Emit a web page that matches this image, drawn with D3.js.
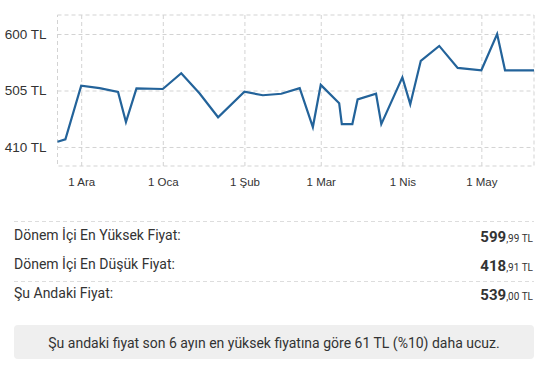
<!DOCTYPE html>
<html>
<head>
<meta charset="utf-8">
<script src="https://cdn.jsdelivr.net/npm/d3@7"></script>
<style>
  body { margin: 0; background: #fff; }
  svg { display: block; }
</style>
</head>
<body>
<script>
// price history (date, TL)
var dates = ["2023-11-22","2023-11-25","2023-12-01","2023-12-08","2023-12-15","2023-12-18",
  "2023-12-22","2024-01-01","2024-01-08","2024-01-15","2024-01-22","2024-02-01",
  "2024-02-08","2024-02-15","2024-02-22","2024-02-27","2024-03-01","2024-03-08",
  "2024-03-09","2024-03-13","2024-03-15","2024-03-22","2024-03-24","2024-04-01",
  "2024-04-04","2024-04-08","2024-04-15","2024-04-22","2024-05-01","2024-05-07",
  "2024-05-10","2024-05-21"];
var prices = [418.91, 423, 513, 509, 502.5, 452,
  508.5, 507.5, 534, 500, 460, 503,
  497, 499.5, 509, 443.5, 514.5, 483.5,
  448.5, 448.5, 490, 499.5, 448.5, 527,
  482, 555, 580, 543, 539, 599.99,
  539, 539];
var yTicks = [410, 505, 600];
var monthNames = ["Oca","Şub","Mar","Nis","May","Haz","Tem","Ağu","Eyl","Eki","Kas","Ara"];

var statLabels = ["Dönem İçi En Yüksek Fiyat:", "Dönem İçi En Düşük Fiyat:", "Şu Andaki Fiyat:"];
var statValues = [599.99, 418.91, 539.00];
var note = "Şu andaki fiyat son 6 ayın en yüksek fiyatına göre 61 TL (%10) daha ucuz.";

var W = 542, H = 377;
var svg = d3.select("body").append("svg")
    .attr("width", W)
    .attr("height", H);

var pLeft = 57.5, pRight = 534, pTop = 15, pBottom = 166;

var parse = d3.utcParse("%Y-%m-%d");
var data = dates.map(function(d, i) { return {date: parse(d), price: prices[i]}; });

var x = d3.scaleUtc()
    .domain([parse("2023-11-22"), parse("2024-05-21")])
    .range([pLeft, pRight]);
var y = d3.scaleLinear()
    .domain([378, 632])
    .range([pBottom, pTop]);

var gridColor = "#d3d3d3";

// dashed frame
svg.append("rect")
    .attr("x", pLeft).attr("y", pTop)
    .attr("width", pRight - pLeft).attr("height", pBottom - pTop)
    .attr("fill", "none")
    .attr("stroke", gridColor)
    .attr("stroke-dasharray", "4,3");

var monthTicks = x.ticks(d3.utcMonth.every(1));

// x grid + labels
var xAxis = d3.axisBottom(x)
    .tickValues(monthTicks)
    .tickSize(-(pBottom - pTop))
    .tickPadding(12)
    .tickFormat(function(d) { return "1 " + monthNames[d.getUTCMonth()]; });
var gx = svg.append("g")
    .attr("transform", "translate(0," + pBottom + ")")
    .call(xAxis);
gx.select(".domain").remove();
gx.selectAll("line").attr("stroke", gridColor).attr("stroke-dasharray", "4,3");
gx.selectAll("text")
    .attr("fill", "#333")
    .style("font-family", "Arial, 'Liberation Sans', sans-serif")
    .style("font-size", "11.5px");

// y grid + labels
var yAxis = d3.axisLeft(y)
    .tickValues(yTicks)
    .tickSize(-(pRight - pLeft))
    .tickPadding(11)
    .tickFormat(function(d) { return d + " TL"; });
var gy = svg.append("g")
    .attr("transform", "translate(" + pLeft + ",0)")
    .call(yAxis);
gy.select(".domain").remove();
gy.selectAll("line").attr("stroke", gridColor).attr("stroke-dasharray", "4,3");
gy.selectAll("text")
    .attr("fill", "#333")
    .style("font-family", "Arial, 'Liberation Sans', sans-serif")
    .style("font-size", "13.5px");

// price line
var line = d3.line()
    .x(function(d) { return x(d.date); })
    .y(function(d) { return y(d.price); });
svg.append("path")
    .datum(data)
    .attr("d", line)
    .attr("fill", "none")
    .attr("stroke", "#23639a")
    .attr("stroke-width", 2.2)
    .attr("stroke-linejoin", "miter");

// stats table
var font = "Roboto, 'Noto Sans', sans-serif";
var rowBase = [240, 269, 298];
var sepY = [221.5, 281.5];
sepY.forEach(function(sy) {
    svg.append("line")
        .attr("x1", 14).attr("x2", 534)
        .attr("y1", sy).attr("y2", sy)
        .attr("stroke", "#ddd")
        .attr("stroke-dasharray", "4,3");
});

statLabels.forEach(function(lbl, i) {
    svg.append("text")
        .attr("x", 14).attr("y", rowBase[i])
        .attr("fill", "#333")
        .style("font-family", font)
        .style("font-size", "14px")
        .text(lbl);

    var parts = statValues[i].toFixed(2).split(".");
    var t = svg.append("text")
        .attr("x", 533).attr("y", rowBase[i] + 1.5)
        .attr("text-anchor", "end")
        .attr("fill", "#333")
        .style("font-family", font);
    t.append("tspan")
        .style("font-size", "15px")
        .style("font-weight", "bold")
        .text(parts[0]);
    t.append("tspan")
        .style("font-size", "10px")
        .text("," + parts[1] + " TL");
});

// note box
svg.append("rect")
    .attr("x", 14).attr("y", 325)
    .attr("width", 520).attr("height", 34)
    .attr("rx", 4)
    .attr("fill", "#efefef");
svg.append("text")
    .attr("x", 274).attr("y", 348)
    .attr("text-anchor", "middle")
    .attr("fill", "#333")
    .style("font-family", font)
    .style("font-size", "14px")
    .text(note);
</script>
</body>
</html>
